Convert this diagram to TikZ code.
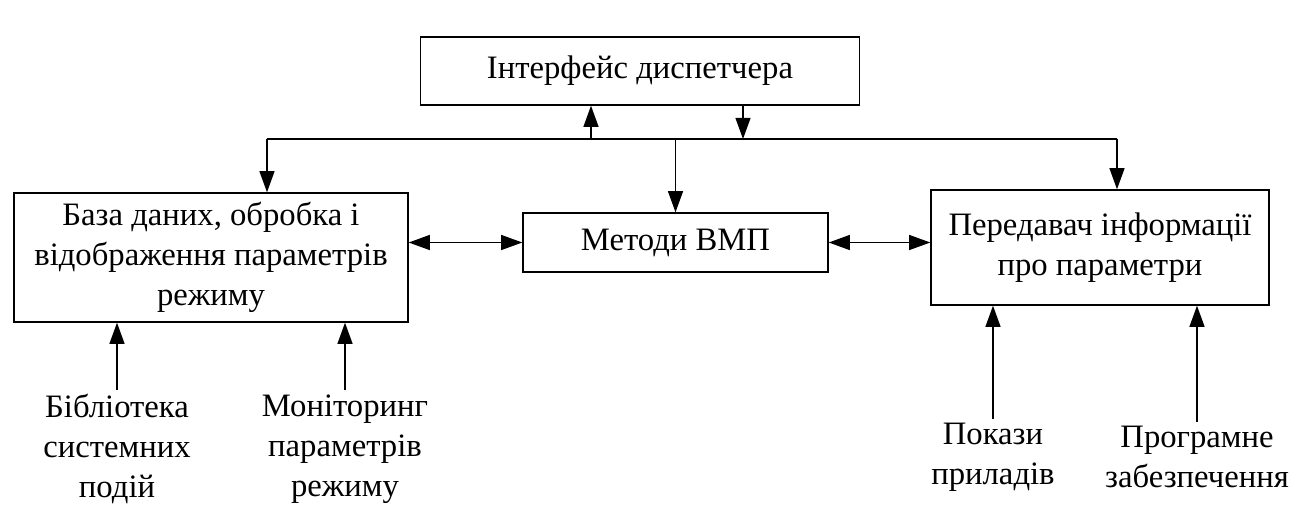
\documentclass[tikz,border=0pt]{standalone}
\usepackage{fontspec}
\setmainfont{Liberation Serif}
\usetikzlibrary{arrows.meta}

\tikzset{
  blk/.style={draw, line width=0.8pt, align=center, inner sep=2pt},
  lbl/.style={align=center, inner sep=2pt},
  >={Triangle[length=12pt,width=8.5pt]}
}

\begin{document}
\begin{tikzpicture}[x=0.02cm, y=-0.02cm, line width=0.8pt,
    font=\fontsize{18.6}{22.8}\selectfont]
  \useasboundingbox (0,0) rectangle (1297,517);
  \node[blk, minimum width=439*0.02cm, minimum height=68*0.02cm] (top) at (640,71) {Інтерфейс диспетчера};
  \node[blk, minimum width=394*0.02cm, minimum height=129*0.02cm] (db) at (211,257.5) {База даних, обробка і\\відображення параметрів\\режиму};
  \node[blk, minimum width=305*0.02cm, minimum height=59*0.02cm] (vmp) at (675.5,242.5) {Методи ВМП};
  \node[blk, minimum width=338*0.02cm, minimum height=115*0.02cm] (tx) at (1100,247.5) {Передавач інформації\\про параметри};
  \node[lbl] (lib) at (117,449) {Бібліотека\\системних\\подій};
  \node[lbl] (mon) at (345,449) {Моніторинг\\параметрів\\режиму};
  \node[lbl] (pok) at (993,457) {Покази\\приладів};
  \node[lbl] (prog) at (1197,457) {Програмне\\забезпечення};
  % bus
  \coordinate (busL) at (267,139);
  \coordinate (busR) at (1117,139);
  \coordinate (up) at (591,139);
  \coordinate (dn) at (743,139);
  \draw (busL) -- (busR);
  \draw[->] (up) -- (up |- top.south);
  \draw[->] (dn |- top.south) -- (dn);
  \draw[->] (busL) -- (busL |- db.north);
  \draw[->] (vmp.north |- busL) -- (vmp.north);
  \draw[->] (busR) -- (busR |- tx.north);
  %
  \draw[<->] (db.east |- vmp) -- (vmp);
  \draw[<->] (vmp) -- (tx.west |- vmp);
  \draw[->] (lib.north) -- (lib.north |- db.south);
  \draw[->] (mon.north) -- (mon.north |- db.south);
  \draw[->] (pok.north) -- (pok.north |- tx.south);
  \draw[->] (prog.north) -- (prog.north |- tx.south);
\end{tikzpicture}
\end{document}
